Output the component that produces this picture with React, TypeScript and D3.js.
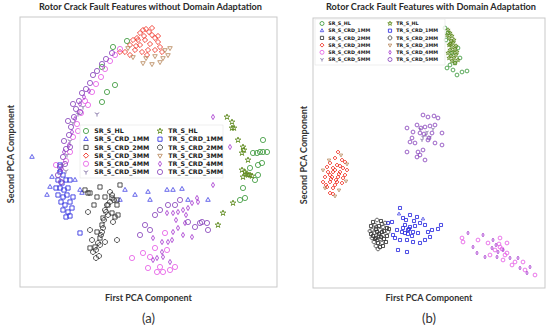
import React from 'react';
import * as d3 from 'd3';

type Pt = [number, number];

// legend entries (left column = source, right column = target)
const srNames = ['SR_S_HL', 'SR_S_CRD_1MM', 'SR_S_CRD_2MM', 'SR_S_CRD_3MM', 'SR_S_CRD_4MM', 'SR_S_CRD_5MM'];
const trNames = ['TR_S_HL', 'TR_S_CRD_1MM', 'TR_S_CRD_2MM', 'TR_S_CRD_3MM', 'TR_S_CRD_4MM', 'TR_S_CRD_5MM'];

const titles = ['Rotor Crack Fault Features without Domain Adaptation', 'Rotor Crack Fault Features with Domain Adaptation'];
const panelTags = ['(a)', '(b)'];

// ---------- panel (a): without domain adaptation ----------
const a_SR_HL: Pt[] = [
  [8.2, 22.0], [9.5, 20.2], [8.7, 19.5], [8.2, 18.5], [9.3, 24.0], [10.7, 24.6],
  [24.3, 14.7], [23.3, 13.4], [23.7, 13.4], [24.0, 13.5], [24.3, 13.5], [24.7, 13.5],
  [24.2, 12.4], [23.8, 12.2], [23.8, 11.2], [22.3, 9.9], [22.0, 8.7], [22.5, 8.9],
  [23.0, 11.9], [23.5, 10.7],
];
const a_SR_1MM: Pt[] = [
  [1.2, 13.0], [3.2, 11.0], [3.0, 10.0], [4.0, 11.7], [6.0, 9.7], [6.2, 9.4], [12.8, 9.5],
  [14.7, 9.7], [15.3, 9.7], [16.2, 9.8], [13.0, 8.7], [16.8, 8.7], [18.8, 8.7], [11.5, 9.2],
  [10.5, 9.7], [5.5, 10.7], [2.7, 9.2], [10.0, 8.7],
];
const a_SR_2MM: Pt[] = [
  [8.0, 10.0], [7.0, 9.4], [7.7, 9.0], [9.2, 8.9], [9.7, 8.7], [10.0, 10.2], [8.8, 8.2],
  [8.3, 6.9], [8.2, 6.2], [7.7, 5.5], [8.0, 4.9], [7.5, 4.0], [7.0, 3.9], [6.5, 9.7],
  [9.2, 7.4], [9.8, 7.2], [7.4, 8.2], [6.8, 9.4], [8.5, 9.0], [9.7, 8.2], [9.5, 7.0],
];
const a_SR_3MM: Pt[] = [
  [10.5, 23.5], [11.0, 24.2], [11.3, 24.7], [11.7, 24.9], [12.0, 25.4], [12.3, 25.7], [12.6, 25.8],
  [12.9, 25.5], [13.2, 25.2], [13.5, 24.9], [13.8, 24.5], [14.0, 24.0], [11.5, 23.7], [12.0, 24.2],
  [12.5, 24.7], [13.0, 24.3], [13.5, 23.7], [12.2, 23.5], [12.8, 23.7], [11.8, 24.7], [11.0, 23.2],
  [14.2, 23.5], [10.0, 23.5], [13.2, 25.9], [12.4, 25.1], [11.6, 24.1], [13.8, 25.1], [12.7, 23.2],
];
const a_SR_4MM: Pt[] = [
  [4.6, 12.6], [5.0, 13.5], [5.3, 15.0], [5.7, 16.3], [6.1, 17.4], [6.5, 18.6], [7.2, 19.5],
  [7.6, 20.3], [8.1, 21.0], [8.5, 21.8], [9.0, 22.6], [9.5, 23.2], [10.0, 23.8], [5.8, 15.6],
  [6.8, 18.2], [3.6, 12.2],
  [12.3, 3.4], [11.2, 2.9], [13.0, 3.0], [12.8, 1.9], [13.7, 1.5], [14.3, 1.5], [15.0, 1.7],
  [15.5, 2.0], [14.0, 2.0], [14.5, 5.4], [13.5, 3.9], [14.7, 3.7],
];
const a_SR_5MM: Pt[] = [
  [4.3, 12.2], [4.7, 13.2], [5.0, 14.6], [5.3, 16.4], [5.8, 17.3], [6.3, 18.0], [4.6, 11.6], [7.7, 17.3],
];
const a_TR_HL: Pt[] = [
  [20.7, 17.0], [21.2, 16.5], [21.2, 15.9], [21.4, 15.9], [21.8, 14.7], [22.3, 14.0], [22.2, 13.4],
  [22.8, 12.7], [22.2, 11.7], [22.5, 11.5], [22.8, 11.2], [22.3, 11.0], [23.0, 11.2], [23.2, 11.1],
  [22.6, 11.3], [21.3, 8.4], [20.3, 7.4], [19.8, 6.2], [22.4, 13.7],
];
const a_TR_1MM: Pt[] = [
  [4.0, 11.5], [4.3, 11.2], [3.8, 10.7], [4.2, 10.4], [4.6, 10.7], [4.0, 9.9], [4.4, 9.7], [4.8, 9.9],
  [3.8, 9.2], [4.3, 9.0], [4.7, 9.2], [4.1, 8.5], [4.5, 8.2], [5.0, 8.5], [4.3, 7.7], [4.8, 7.5],
  [5.2, 7.9], [4.6, 7.0], [5.0, 7.1], [3.6, 9.9], [6.0, 5.4], [5.0, 10.7], [5.3, 9.0], [4.0, 12.2],
];
const a_TR_2MM: Pt[] = [
  [6.8, 7.5], [9.7, 4.7], [7.3, 3.5], [7.2, 4.7], [8.5, 7.7], [9.0, 9.5], [8.5, 4.5], [8.0, 4.2],
  [9.0, 8.5], [8.7, 8.2], [8.6, 7.5], [8.4, 6.7], [8.3, 5.9], [8.1, 5.2], [7.8, 4.4], [7.6, 3.7],
  [9.2, 9.2], [9.4, 8.7], [8.8, 7.2], [8.2, 5.5], [7.9, 3.1], [7.6, 2.9], [7.0, 5.7], [9.3, 6.5],
];
const a_TR_3MM: Pt[] = [
  [11.3, 23.0], [12.6, 22.9], [13.2, 22.3], [14.0, 22.5], [14.5, 23.7], [15.0, 23.9],
  [14.3, 22.9], [10.8, 23.9], [13.5, 23.1], [14.8, 23.2], [12.3, 22.4],
];
const a_TR_4MM: Pt[] = [
  [4.4, 13.5], [4.9, 14.2], [5.2, 15.5], [5.5, 16.8], [6.0, 18.3], [6.4, 19.0], [6.9, 19.6], [4.2, 11.8],
  [19.3, 10.2], [17.7, 8.9], [17.8, 8.5], [14.7, 7.4], [15.3, 7.4], [15.8, 7.5], [16.3, 7.7], [16.8, 7.9],
  [17.2, 8.4], [16.5, 6.4], [15.8, 5.9], [15.3, 5.5], [16.3, 5.2], [17.2, 5.0], [13.3, 4.9], [14.2, 4.5],
  [14.8, 4.5], [15.2, 4.7], [14.2, 3.5], [13.7, 2.9], [15.0, 2.5], [13.3, 2.7], [14.3, 3.0], [19.3, 17.0],
  [21.0, 14.0], [15.6, 6.7], [16.6, 7.2],
];
const a_TR_5MM: Pt[] = [
  [4.0, 12.0], [4.3, 13.0], [4.6, 13.8], [4.4, 14.6], [4.9, 15.2], [5.1, 16.0], [4.8, 16.6], [5.4, 17.0],
  [5.6, 17.8], [5.3, 18.3], [5.9, 18.6], [6.2, 19.4], [6.6, 19.8], [7.0, 20.4], [7.3, 21.2], [7.7, 21.6],
  [8.2, 22.3], [8.6, 22.8], [9.2, 23.4], [3.8, 11.2], [4.1, 10.5], [5.0, 14.0], [6.0, 17.5], [4.5, 12.3],
  [18.0, 6.4], [18.2, 6.5], [17.5, 6.0], [18.7, 6.4], [18.8, 5.7], [14.0, 7.7], [14.8, 8.2], [15.5, 8.2],
  [16.0, 8.7], [13.5, 7.2], [12.5, 6.2], [12.0, 5.2], [13.0, 5.7], [16.8, 6.5],
];

// ---------- panel (b): with domain adaptation ----------
const b_SR_HL: Pt[] = [
  [13.4, 22.0], [14.4, 21.3], [14.9, 21.6], [14.2, 22.5], [13.9, 23.5], [13.5, 25.5], [13.3, 24.8],
  [14.5, 24.0], [14.7, 23.0], [13.7, 22.3], [14.0, 21.8], [13.2, 26.0], [15.4, 21.7],
];
const b_SR_1MM: Pt[] = [[8.6, 7.4], [11.0, 6.9]];
const b_SR_2MM: Pt[] = [
  [6.0, 6.6], [6.8, 6.7], [5.8, 6.2], [6.6, 6.2], [7.4, 6.0], [6.3, 5.9], [7.1, 5.7], [5.8, 5.4],
  [6.6, 5.4], [7.4, 5.2], [6.3, 5.0], [7.1, 4.9], [6.5, 4.5], [7.3, 4.6], [6.7, 4.1], [6.0, 5.2],
  [7.6, 5.9], [6.8, 5.1], [6.4, 5.6], [6.9, 5.6], [6.2, 4.9], [7.0, 4.2],
];
const b_SR_3MM: Pt[] = [
  [2.5, 13.6], [2.2, 13.0], [2.9, 12.8], [3.2, 12.6], [1.7, 12.5], [1.4, 12.1], [2.4, 12.3], [3.0, 12.0],
  [3.4, 11.8], [1.5, 11.6], [2.0, 11.6], [2.7, 11.6], [1.2, 11.1], [1.9, 11.1], [2.5, 11.1], [3.0, 11.0],
  [1.0, 10.6], [1.7, 10.6], [2.4, 10.6], [2.9, 10.5], [1.4, 10.1], [2.0, 10.0], [1.7, 9.5], [2.0, 9.4],
  [3.2, 11.3], [2.2, 11.8], [1.7, 11.3], [2.3, 10.8], [2.7, 12.2], [1.3, 10.3], [2.0, 12.0], [2.6, 11.4],
  [1.8, 10.9], [2.2, 10.3],
];
const b_SR_4MM: Pt[] = [
  [14.9, 5.0], [15.0, 4.6], [16.5, 4.8], [17.5, 4.5], [18.2, 3.8], [18.7, 4.1], [19.4, 3.5], [19.0, 2.8],
  [20.2, 2.6], [21.0, 2.6], [21.2, 1.8], [22.2, 1.3], [19.9, 2.3], [17.7, 3.3], [18.7, 5.0], [19.4, 4.5],
  [19.2, 3.3], [18.9, 3.9], [18.6, 4.4],
];
const b_SR_5MM: Pt[] = [
  [11.0, 15.1], [11.7, 15.1], [11.3, 15.3], [10.7, 15.9], [12.0, 15.9], [10.9, 14.8], [11.4, 15.6],
];
const b_TR_HL: Pt[] = [
  [13.5, 25.8], [13.7, 25.5], [13.9, 25.2], [13.6, 25.0], [13.8, 24.7], [14.0, 24.5], [13.6, 24.3],
  [13.9, 24.1], [14.2, 23.9], [13.7, 23.8], [14.0, 23.6], [13.5, 23.5], [14.3, 23.3], [13.8, 23.2],
  [14.1, 23.0], [14.5, 22.8], [13.9, 22.7], [14.2, 22.5], [13.4, 25.3], [14.1, 24.8], [13.7, 24.4],
  [14.3, 24.2], [13.6, 23.0], [14.4, 23.6],
];
const b_TR_1MM: Pt[] = [
  [8.7, 8.0], [7.9, 6.6], [7.5, 6.5], [9.0, 7.0], [9.7, 7.3], [10.4, 7.1], [10.7, 6.5], [11.2, 6.3],
  [11.9, 5.8], [12.5, 5.9], [11.5, 5.6], [11.7, 5.1], [8.4, 5.8], [8.9, 5.6], [9.5, 5.8], [10.0, 5.6],
  [10.5, 5.5], [11.2, 4.8], [10.7, 4.5], [10.0, 4.6], [9.4, 4.8], [8.7, 4.8], [8.2, 5.0], [8.5, 3.8],
  [9.4, 3.6], [9.2, 6.3], [9.7, 6.1], [10.2, 6.2], [8.0, 5.3], [12.8, 6.3], [9.3, 6.8], [9.9, 5.2],
  [9.0, 6.0], [9.5, 5.4], [10.1, 6.7], [9.6, 5.9], [9.2, 5.5],
];
const b_TR_2MM: Pt[] = [
  [6.4, 6.8], [7.2, 6.5], [6.2, 6.3], [7.0, 6.1], [5.9, 5.8], [6.7, 5.8], [7.5, 5.6], [6.2, 5.5],
  [7.0, 5.3], [5.9, 5.0], [6.7, 4.9], [6.1, 4.6], [6.9, 4.5], [6.3, 4.2], [6.5, 3.9], [6.9, 6.4],
  [5.7, 5.7], [6.4, 4.8], [6.6, 5.2], [6.3, 6.1],
];
const b_TR_3MM: Pt[] = [
  [1.0, 11.8], [3.4, 12.4], [2.8, 13.3], [1.2, 10.0], [2.2, 9.2], [3.3, 10.7], [1.6, 12.8], [2.6, 9.8],
];
const b_TR_4MM: Pt[] = [
  [15.5, 5.5], [16.0, 4.1], [17.0, 5.3], [17.9, 4.0], [18.5, 3.6], [19.0, 3.8], [18.4, 3.1], [19.7, 3.0],
  [20.5, 3.0], [20.7, 2.0], [21.7, 2.1], [21.4, 1.5], [17.2, 3.1], [16.4, 3.5], [18.0, 4.8], [18.3, 4.3],
];
const b_TR_5MM: Pt[] = [
  [11.0, 17.3], [11.5, 17.1], [12.1, 17.2], [12.5, 17.0], [10.4, 16.3], [11.2, 16.1], [11.7, 16.2],
  [12.2, 16.3], [9.4, 16.0], [10.0, 15.6], [10.7, 15.5], [11.9, 15.5], [12.9, 15.5], [9.7, 14.6],
  [10.2, 14.5], [11.5, 14.8], [12.2, 14.5], [12.9, 14.3], [9.4, 13.6], [10.5, 13.6], [11.0, 13.8],
  [10.7, 13.3], [10.4, 13.1], [11.2, 12.8], [9.9, 15.0], [11.1, 15.4], [11.6, 15.0], [10.8, 16.0],
];

const panelAData: Pt[][] = [a_SR_HL, a_SR_1MM, a_SR_2MM, a_SR_3MM, a_SR_4MM, a_SR_5MM, a_TR_HL, a_TR_1MM, a_TR_2MM, a_TR_3MM, a_TR_4MM, a_TR_5MM];
const panelBData: Pt[][] = [b_SR_HL, b_SR_1MM, b_SR_2MM, b_SR_3MM, b_SR_4MM, b_SR_5MM, b_TR_HL, b_TR_1MM, b_TR_2MM, b_TR_3MM, b_TR_4MM, b_TR_5MM];

// marker style per series, same order as srNames + trNames
const markerKinds = ['circle', 'triangle', 'square', 'diamond', 'circle', 'tri1', 'star', 'square', 'octagon', 'tridown', 'thindiamond', 'circle'];
const markerColors = ['#3d9a3d', '#4d4de6', '#333333', '#f02a1e', '#e660e6', '#7f6fa3', '#5f8a1e', '#2d2de0', '#3c3c3c', '#b98a60', '#a83cd0', '#8a48bd'];

function markerPath(kind: string, r: number): string {
  const s = Math.sqrt(3) / 2;
  switch (kind) {
    case 'circle':
      return d3.symbol().type(d3.symbolCircle).size(Math.PI * r * r)() || '';
    case 'triangle':
      return `M0,${-r}L${r * s},${r / 2}L${-r * s},${r / 2}Z`;
    case 'tridown':
      return `M0,${r}L${r * s},${-r / 2}L${-r * s},${-r / 2}Z`;
    case 'square':
      return `M${-r * 0.8},${-r * 0.8}h${r * 1.6}v${r * 1.6}h${-r * 1.6}Z`;
    case 'diamond':
      return `M0,${-r}L${r},0L0,${r}L${-r},0Z`;
    case 'thindiamond':
      return `M0,${-r}L${r * 0.6},0L0,${r}L${-r * 0.6},0Z`;
    case 'star':
      return d3.symbol().type(d3.symbolStar).size(r * r * 1.5)() || '';
    case 'octagon': {
      const pts = d3.range(8).map(i => {
        const a = (Math.PI / 8) + (i * Math.PI) / 4;
        return `${r * Math.cos(a)},${r * Math.sin(a)}`;
      });
      return 'M' + pts.join('L') + 'Z';
    }
    case 'tri1':
      return `M0,0L0,${r}M0,0L${-r * s},${-r / 2}M0,0L${r * s},${-r / 2}`;
    default:
      return '';
  }
}

interface PanelProps {
  data: Pt[][];
  frame: { x0: number; y0: number; x1: number; y1: number };
  xDomain: [number, number];
  yDomain: [number, number];
  r: number;
  title: string;
  titleWidth: number;
  tag: string;
  legend: { x: number; y: number; w: number; h: number; row0: number; step: number; c1: number; c2: number; font: number; r: number };
}

function Panel({ data, frame, xDomain, yDomain, r, title, titleWidth, tag, legend }: PanelProps) {
  const x = d3.scaleLinear().domain(xDomain).range([frame.x0, frame.x1]);
  const y = d3.scaleLinear().domain(yDomain).range([frame.y1, frame.y0]);
  const cx = (frame.x0 + frame.x1) / 2;
  const cy = (frame.y0 + frame.y1) / 2;
  const font = 'Lato, "Open Sans", sans-serif';
  const names = [...srNames, ...trNames];

  return (
    <g>
      <text x={cx + 2} y={10} textAnchor="middle" fontFamily={font} fontWeight={700} fontSize={9.5}
        fill="#2a2a2a" textLength={titleWidth} lengthAdjust="spacingAndGlyphs">{title}</text>
      <rect x={frame.x0} y={frame.y0} width={frame.x1 - frame.x0} height={frame.y1 - frame.y0}
        fill="none" stroke="#c9c9c9" strokeWidth={1} />
      {/* scatter points */}
      {data.map((pts, si) => (
        <g key={si}>
          {pts.map((p, i) => (
            <path key={i} d={markerPath(markerKinds[si], r)} transform={`translate(${x(p[0])},${y(p[1])})`}
              fill="none" stroke={markerColors[si]} strokeWidth={0.85} />
          ))}
        </g>
      ))}
      {/* legend */}
      <rect x={legend.x} y={legend.y} width={legend.w} height={legend.h} fill="#fff" fillOpacity={0.8}
        stroke="#e4e4e4" strokeWidth={0.6} />
      {names.map((n, i) => {
        const col = i < 6 ? 0 : 1;
        const row = i % 6;
        const mx = col === 0 ? legend.c1 : legend.c2;
        const my = legend.row0 + row * legend.step;
        return (
          <g key={n}>
            <path d={markerPath(markerKinds[i], legend.r)} transform={`translate(${mx},${my})`}
              fill="none" stroke={markerColors[i]} strokeWidth={0.85} />
            <text x={mx + legend.r + legend.font * 0.9} y={my} dy="0.35em" fontFamily='"DejaVu Sans", sans-serif'
              fontWeight={700} fontSize={legend.font} fill="#222">{n}</text>
          </g>
        );
      })}
      {/* axis labels */}
      <text x={cx} y={301} textAnchor="middle" fontFamily={font} fontWeight={700} fontSize={9} fill="#333">
        First PCA Component
      </text>
      <text transform={`translate(${frame.x0 - 6},${cy + 2}) rotate(-90)`} textAnchor="middle" fontFamily={font}
        fontWeight={700} fontSize={9} fill="#333">
        Second PCA Component
      </text>
      <text x={cx} y={323} textAnchor="middle" fontFamily={font} fontSize={13} fill="#333">{tag}</text>
    </g>
  );
}

export default function App() {
  return (
    <div style={{ position: 'absolute', left: 0, top: 0, background: '#fff' }}>
      <svg width={550} height={331} style={{ display: 'block' }}>
        <rect width={550} height={331} fill="#fff" />
        <Panel
          data={panelAData}
          frame={{ x0: 20, y0: 17, x1: 277, y1: 287 }}
          xDomain={[0, 25.7]}
          yDomain={[0, 27]}
          r={2.6}
          title={titles[0]}
          titleWidth={223}
          tag={panelTags[0]}
          legend={{ x: 80, y: 125, w: 143, h: 53, row0: 131, step: 8.2, c1: 86, c2: 160, font: 6.3, r: 2.6 }}
        />
        <Panel
          data={panelBData}
          frame={{ x0: 313, y0: 18, x1: 545, y1: 288 }}
          xDomain={[0, 23.2]}
          yDomain={[0, 27]}
          r={1.9}
          title={titles[1]}
          titleWidth={210}
          tag={panelTags[1]}
          legend={{ x: 315, y: 19, w: 130, h: 46, row0: 23.5, step: 7.2, c1: 322, c2: 390, font: 4.8, r: 2 }}
        />
      </svg>
    </div>
  );
}
